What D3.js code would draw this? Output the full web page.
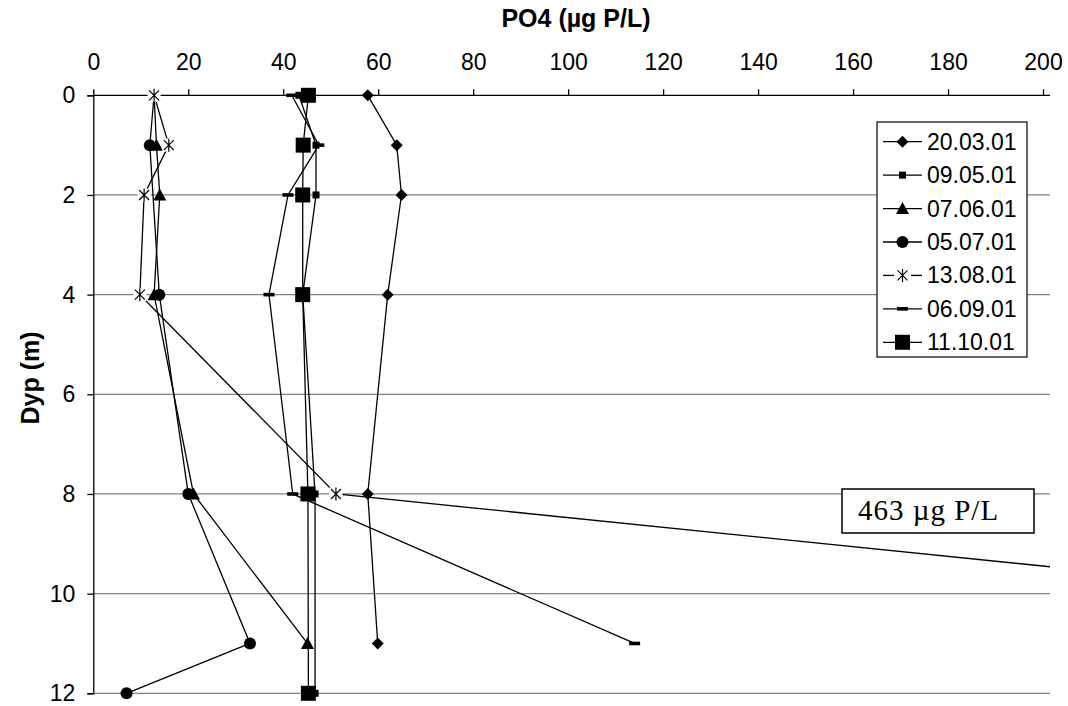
<!DOCTYPE html>
<html><head><meta charset="utf-8">
<script src="https://cdn.jsdelivr.net/npm/d3@7"></script>
<style>body{margin:0;background:#fff}svg{display:block}</style>
</head><body>
<svg id="c" width="1068" height="706"></svg>
<script>
// ---- data ----
const xTicks = [0,20,40,60,80,100,120,140,160,180,200];
const yTicks = [0,2,4,6,8,10,12];
const seriesNames = ["20.03.01","09.05.01","07.06.01","05.07.01","13.08.01","06.09.01","11.10.01"];
const markerTypes = ["diamond","smallSquare","triangle","circle","star","dash","bigSquare"];
const d20_03_depth = [0,1,2,4,8,11];
const d20_03_po4   = [57.8,63.9,64.9,62.0,57.8,59.9];
const d09_05_depth = [0,1,2,4,8,12];
const d09_05_po4   = [43.3,46.9,46.9,44.1,46.7,46.7];
const d07_06_depth = [0,1,2,4,8,11];
const d07_06_po4   = [12.8,13.3,14.0,12.8,21.1,45.1];
const d05_07_depth = [0,1,4,8,11,12];
const d05_07_po4   = [12.8,11.9,13.9,20.0,33.0,7.0];
const d13_08_depth = [0,1,2,4,8,12];
const d13_08_po4   = [12.8,15.9,10.7,9.8,51.1,463];
const d06_09_depth = [0,1,2,4,8,11];
const d06_09_po4   = [41.8,47.5,41.0,37.0,42.0,114.0];
const d11_10_depth = [0,1,2,4,8,12];
const d11_10_po4   = [45.3,44.2,44.1,44.1,45.2,45.3];
const annotationText = "463 µg P/L";
const xTitle = "PO4 (µg P/L)";
const yTitle = "Dyp (m)";

const seriesData = [
  [d20_03_depth,d20_03_po4],[d09_05_depth,d09_05_po4],[d07_06_depth,d07_06_po4],
  [d05_07_depth,d05_07_po4],[d13_08_depth,d13_08_po4],[d06_09_depth,d06_09_po4],
  [d11_10_depth,d11_10_po4]
].map(([d,v],i)=>({name:seriesNames[i],marker:markerTypes[i],pts:d.map((dd,j)=>({depth:dd,v:v[j]}))}));

// ---- layout ----
const L = 93.3, R = 1043, T = 95.3, B = 693.3, CLIPR = 1050;
const svg = d3.select("#c");
const x = d3.scaleLinear().domain([0,200]).range([L,R]);
const y = d3.scaleLinear().domain([0,12]).range([T,B]);
const font = "Liberation Sans, Arial, sans-serif";

// gridlines
svg.append("g").selectAll("line").data(yTicks.filter(t=>t>0)).join("line")
  .attr("x1",L).attr("x2",CLIPR).attr("y1",d=>y(d)).attr("y2",d=>y(d))
  .attr("stroke","#808080").attr("stroke-width",1.3);

// axes
const xAxis = svg.append("g").attr("transform",`translate(0,${T})`)
  .call(d3.axisTop(x).tickValues(xTicks).tickSize(6).tickPadding(19).tickFormat(d3.format("d")));
xAxis.select(".domain").attr("d",`M${L},0H${CLIPR}`);
const yAxis = svg.append("g").attr("transform",`translate(${L},0)`)
  .call(d3.axisLeft(y).tickValues(yTicks).tickSize(6).tickPadding(12).tickFormat(d3.format("d")));
[xAxis,yAxis].forEach(a=>{
  a.select(".domain").attr("stroke","#000").attr("stroke-width",1.3);
  a.selectAll(".tick line").attr("stroke","#000").attr("stroke-width",1.3);
  a.selectAll("text").attr("font-family",font).attr("font-size",23).attr("fill","#000");
});

// titles
svg.append("text").attr("x",576).attr("y",27).attr("text-anchor","middle")
  .attr("font-family",font).attr("font-size",25).attr("font-weight","bold").text(xTitle);
svg.append("text").attr("transform",`translate(39,${378}) rotate(-90)`).attr("text-anchor","middle")
  .attr("font-family",font).attr("font-size",25).attr("font-weight","bold").text(yTitle);

// markers
function drawMarker(g, type, cx, cy){
  const s = g.append("g").attr("transform",`translate(${cx},${cy})`);
  switch(type){
    case "diamond": s.append("path").attr("d","M0,-6L6,0L0,6L-6,0Z").attr("fill","#000"); break;
    case "smallSquare": s.append("rect").attr("x",-3.5).attr("y",-3.5).attr("width",7).attr("height",7).attr("fill","#000"); break;
    case "triangle": s.append("path").attr("d","M0,-6.5L6.5,5.5L-6.5,5.5Z").attr("fill","#000"); break;
    case "circle": s.append("circle").attr("r",6).attr("fill","#000"); break;
    case "star":
      s.append("rect").attr("x",-6.5).attr("y",-6.5).attr("width",13).attr("height",13).attr("fill","#fff");
      s.append("path").attr("d","M-5,-5L5,5M-5,5L5,-5M0,-6.5L0,6.5").attr("stroke","#000").attr("stroke-width",1.2).attr("fill","none");
      break;
    case "dash": s.append("rect").attr("x",-5.5).attr("y",-1.8).attr("width",11).attr("height",3.6).attr("fill","#000"); break;
    case "bigSquare": s.append("rect").attr("x",-7.5).attr("y",-7.5).attr("width",15).attr("height",15).attr("fill","#000"); break;
  }
}

// clip
svg.append("defs").append("clipPath").attr("id","plot").append("rect")
  .attr("x",L).attr("y",T-10).attr("width",CLIPR-L).attr("height",B-T+20);

const line = d3.line().x(d=>x(d.v)).y(d=>y(d.depth));
const plotG = svg.append("g");
seriesData.forEach(s=>{
  plotG.append("path").attr("d",line(s.pts)).attr("fill","none").attr("stroke","#000")
    .attr("stroke-width",1.3).attr("clip-path","url(#plot)");
  s.pts.filter(p=>p.v<=200).forEach(p=>drawMarker(plotG,s.marker,x(p.v),y(p.depth)));
});

// annotation box
const ann = svg.append("g");
ann.append("rect").attr("x",842).attr("y",489).attr("width",192).attr("height",44)
  .attr("fill","#fff").attr("stroke","#000").attr("stroke-width",1.5);
ann.append("text").attr("x",858).attr("y",520).attr("text-anchor","start")
  .attr("font-family","Liberation Serif, Times New Roman, serif").attr("font-size",29)
  .attr("letter-spacing",1).text(annotationText);

// legend
const lg = svg.append("g");
lg.append("rect").attr("x",877).attr("y",122).attr("width",150).attr("height",235)
  .attr("fill","#fff").attr("stroke","#000").attr("stroke-width",1.2);
seriesData.forEach((s,i)=>{
  const cy = 141.7 + i*33.43;
  if(s.marker==="star"){
    lg.append("line").attr("x1",883).attr("x2",894).attr("y1",cy).attr("y2",cy).attr("stroke","#000").attr("stroke-width",1.3);
    lg.append("line").attr("x1",911).attr("x2",922).attr("y1",cy).attr("y2",cy).attr("stroke","#000").attr("stroke-width",1.3);
  } else {
    lg.append("line").attr("x1",883).attr("x2",922).attr("y1",cy).attr("y2",cy).attr("stroke","#000").attr("stroke-width",1.3);
  }
  drawMarker(lg,s.marker,902.5,cy);
  lg.append("text").attr("x",927).attr("y",cy).attr("dy","0.35em")
    .attr("font-family",font).attr("font-size",23).text(s.name);
});
</script>
</body></html>
